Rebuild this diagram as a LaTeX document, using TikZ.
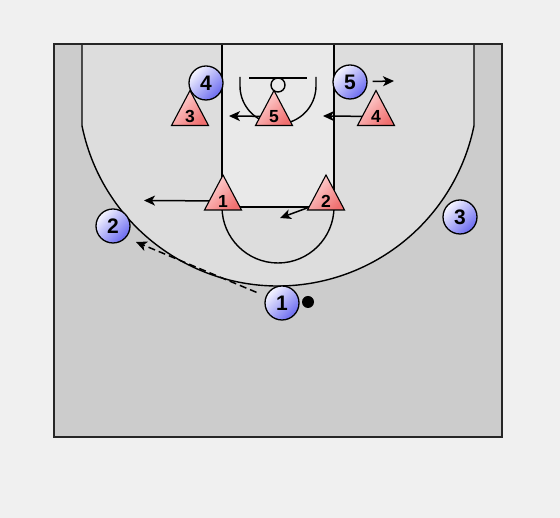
\documentclass[tikz,border=0pt]{standalone}
\usepackage{fontspec}
\setmainfont{Liberation Sans}
\usetikzlibrary{arrows.meta}
\definecolor{bg}{HTML}{F0F0F0}
\definecolor{courtout}{HTML}{CCCCCC}
\definecolor{courtin}{HTML}{DDDDDD}
\definecolor{lanefill}{HTML}{E9E9E9}
\definecolor{offA}{HTML}{F6F6FF}
\definecolor{offB}{HTML}{6A6AF0}
\definecolor{defA}{HTML}{FFDADA}
\definecolor{defB}{HTML}{F07070}
\newcommand\defender[2]{%
  \shadedraw[tri, shift={(#1)}] (0,26) -- (-18.5,-9) -- (18.5,-9) -- cycle;
  \node[deflab] (#1l) at (#1) {#2};}
\begin{document}
\begin{tikzpicture}[x=1pt,y=1pt,
  courtline/.style={line width=1.4pt, draw=black},
  move/.style={line width=1.5pt, draw=black, -{Stealth[length=11pt,width=10pt,inset=3pt]}},
  pass/.style={move, dash pattern=on 7pt off 4pt},
  off/.style={circle, draw=black, line width=1.3pt, minimum size=34pt, inner sep=0pt,
    top color=offA, bottom color=offB, shading angle=45,
    font=\fontsize{21}{21}\selectfont\bfseries},
  deflab/.style={font=\fontsize{17.5}{17.5}\selectfont\bfseries, inner sep=0pt},
  tri/.style={draw=black, line width=1.1pt, top color=defA, bottom color=defB, shading angle=45}]
\useasboundingbox (0,0) rectangle (560,518);
\fill[bg] (0,0) rectangle (560,518);
% court
\fill[courtout] (54,81) rectangle (502,474);
\fill[courtin] (82,474) -- (82,392.2) arc[start angle=191.48, end angle=348.52, radius=200] -- (474,474) -- cycle;
\draw[courtline] (82,474) -- (82,392.2) arc[start angle=191.48, end angle=348.52, radius=200] -- (474,474);
\fill[lanefill] (222,311) rectangle (334,474);
\draw[courtline] (222,474) -- (222,311) -- (334,311) -- (334,474);
\draw[courtline] (222,311) arc[start angle=180, end angle=360, radius=56];
\draw[courtline] (249,440) -- (307,440);
\draw[courtline] (278,433) circle[radius=7];
\draw[courtline] (240,441) -- (240,432) arc[start angle=180, end angle=360, radius=38] -- (316,441);
\draw[line width=1.8pt, draw=black!85] (54,81) rectangle (502,474);
% defenders
\coordinate (x1) at (223,317);
\coordinate (x2) at (326,317);
\coordinate (x3) at (190,401.5);
\coordinate (x5) at (274,401.5);
\coordinate (x4) at (376,401.5);
\coordinate (x1t) at (144,317.5);
\coordinate (x2t) at (280,300);
\coordinate (x5t) at (229,402);
\coordinate (x4t) at (323,402);
\draw[move] (x1) -- (x1t);
\draw[move] (x2) -- (x2t);
\draw[move] (x5) -- (x5t);
\draw[move] (x4) -- (x4t);
\defender{x1}{1}
\defender{x2}{2}
\defender{x3}{3}
\defender{x5}{5}
\defender{x4}{4}
% offense
\node[off] (o1) at (282,215) {1};
\node[off] (o2) at (113,292) {2};
\node[off] (o3) at (460,301) {3};
\node[off] (o4) at (206,435) {4};
\node[off] (o5) at (350,436) {5};
\node[circle, fill=black, minimum size=12pt, inner sep=0pt] (ball) at (308,216) {};
\coordinate (o1t) at (136,276);
\coordinate (o5t) at (394,437);
\draw[pass, shorten <=10pt] (o1) -- (o1t);
\draw[move, shorten <=5pt] (o5) -- (o5t);
\end{tikzpicture}
\end{document}
